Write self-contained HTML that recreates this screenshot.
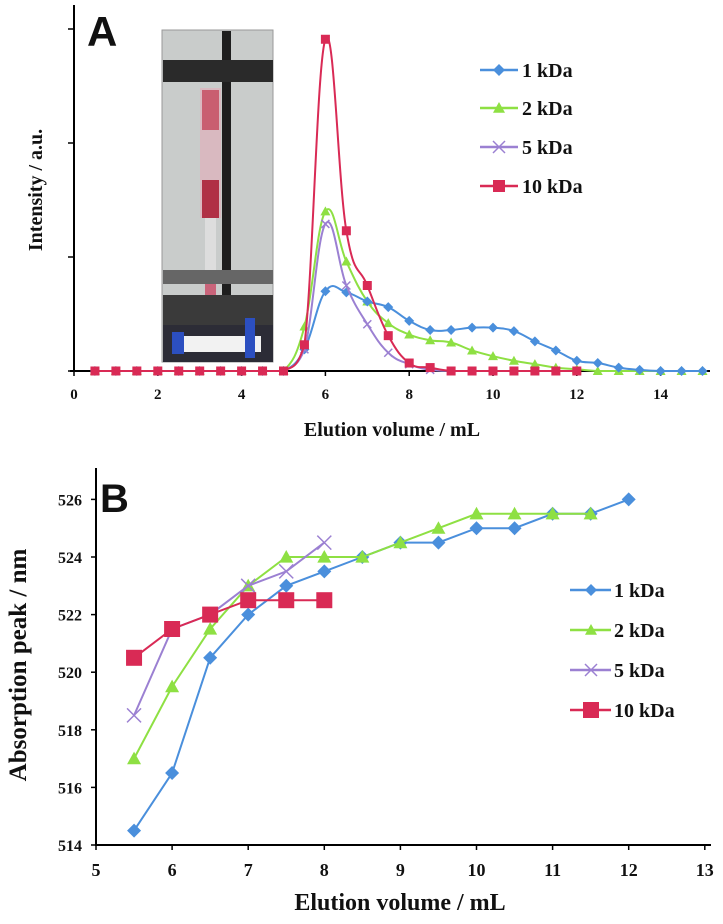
<!DOCTYPE html>
<html><head><meta charset="utf-8">
<style>
html,body{margin:0;padding:0;background:#fff;}
svg text{font-family:"Liberation Serif",serif;font-weight:bold;fill:#111;}
</style></head>
<body>
<svg id="fig" width="723" height="919" viewBox="0 0 723 919" xmlns="http://www.w3.org/2000/svg">
<g id="pa"></g>
<g id="pb"></g>
</svg>
<script>
// ---------- Panel A data ----------
const aX = [0.5,1,1.5,2,2.5,3,3.5,4,4.5,5,5.5,6,6.5,7,7.5,8,8.5,9,9.5,10,10.5,11,11.5,12,12.5,13,13.5,14,14.5,15];
const a1 = [0,0,0,0,0,0,0,0,0,0,0.19,0.70,0.69,0.61,0.56,0.44,0.36,0.36,0.38,0.38,0.35,0.26,0.18,0.09,0.07,0.03,0.01,0,0,0];
const a2 = [0,0,0,0,0,0,0,0,0,0,0.39,1.40,0.96,0.61,0.42,0.32,0.27,0.25,0.18,0.13,0.09,0.06,0.03,0.015,0,0,0,0,0,0];
const a5X = [5,5.5,6,6.5,7,7.5,8,8.5,9];
const a5 = [0,0.19,1.29,0.75,0.41,0.16,0.06,0.01,0];
const a10X = [0.5,1,1.5,2,2.5,3,3.5,4,4.5,5,5.5,6,6.5,7,7.5,8,8.5,9,9.5,10,10.5,11,11.5,12];
const a10 = [0,0,0,0,0,0,0,0,0,0,0.23,2.91,1.23,0.75,0.31,0.07,0.03,0,0,0,0,0,0,0];
const aXTicks = [0,2,4,6,8,10,12,14];
const aYTicks = [0,1,2,3];
// ---------- Panel B data ----------
const b1X = [5.5,6,6.5,7,7.5,8,8.5,9,9.5,10,10.5,11,11.5,12];
const b1 = [514.5,516.5,520.5,522,523,523.5,524,524.5,524.5,525,525,525.5,525.5,526];
const b2X = [5.5,6,6.5,7,7.5,8,8.5,9,9.5,10,10.5,11,11.5];
const b2 = [517,519.5,521.5,523,524,524,524,524.5,525,525.5,525.5,525.5,525.5];
const b5X = [5.5,6,6.5,7,7.5,8];
const b5 = [518.5,521.5,522,523,523.5,524.5];
const b10X = [5.5,6,6.5,7,7.5,8];
const b10 = [520.5,521.5,522,522.5,522.5,522.5];
const bXTicks = [5,6,7,8,9,10,11,12,13];
const bYTicks = [514,516,518,520,522,524,526];

const C = {b:'#4a8fdc', g:'#8ee043', p:'#9b80d2', r:'#d92a55'};
const NS='http://www.w3.org/2000/svg';
function mk(parent,tag,attrs,txt){const e=document.createElementNS(NS,tag);for(const k in attrs)e.setAttribute(k,attrs[k]);if(txt!==undefined)e.textContent=txt;parent.appendChild(e);return e;}

const axA = v=>74+41.9*v, ayA = v=>371-114*v;
const axB = v=>96+76.1*(v-5), ayB = v=>845-28.8*(v-514);

function smoothPath(pts){
  let d='M'+pts[0][0]+','+pts[0][1];
  for(let i=0;i<pts.length-1;i++){
    const p0=pts[Math.max(0,i-1)],p1=pts[i],p2=pts[i+1],p3=pts[Math.min(pts.length-1,i+2)];
    const t=0.2;
    const c1x=p1[0]+(p2[0]-p0[0])*t,c1y=p1[1]+(p2[1]-p0[1])*t;
    const c2x=p2[0]-(p3[0]-p1[0])*t,c2y=p2[1]-(p3[1]-p1[1])*t;
    d+=' C'+c1x+','+Math.min(c1y,371)+' '+c2x+','+Math.min(c2y,371)+' '+p2[0]+','+p2[1];
  }
  return d;
}
function marker(g,type,x,y,col,s){
  let e;
  if(type==='d') e=mk(g,'polygon',{points:`${x},${y-s} ${x+s},${y} ${x},${y+s} ${x-s},${y}`,fill:col});
  else if(type==='t') e=mk(g,'polygon',{points:`${x},${y-s} ${x+s},${y+s*0.8} ${x-s},${y+s*0.8}`,fill:col});
  else if(type==='s') e=mk(g,'rect',{x:x-s,y:y-s,width:2*s,height:2*s,fill:col});
  else { e=mk(g,'path',{d:`M${x-s},${y-s}L${x+s},${y+s}M${x-s},${y+s}L${x+s},${y-s}`,stroke:col,'stroke-width':1.5,fill:'none'}); }
  
  
}

// ---------- Panel A ----------
const pa=document.getElementById('pa');
const ph=mk(pa,'g',{});


mk(ph,'rect',{x:162,y:30,width:111,height:332,fill:'#c9cccb'});
mk(ph,'rect',{x:162,y:30,width:111,height:332,fill:'none',stroke:'#999'});
mk(ph,'rect',{x:222,y:31,width:9,height:310,fill:'#1e1e1e'});
mk(ph,'rect',{x:163,y:60,width:110,height:22,fill:'#2a2a2a'});
mk(ph,'rect',{x:200,y:88,width:21,height:130,fill:'#d9b9c0'});
mk(ph,'rect',{x:202,y:90,width:17,height:40,fill:'#c2384f',opacity:0.7});
mk(ph,'rect',{x:202,y:180,width:17,height:38,fill:'#a8182f',opacity:0.85});
mk(ph,'rect',{x:205,y:218,width:11,height:110,fill:'#ddd'});
mk(ph,'rect',{x:205,y:275,width:11,height:30,fill:'#c03050',opacity:0.7});
mk(ph,'rect',{x:163,y:270,width:110,height:14,fill:'#666'});
mk(ph,'rect',{x:163,y:295,width:110,height:30,fill:'#3a3a3a'});
mk(ph,'rect',{x:163,y:325,width:110,height:37,fill:'#2c2c36'});
mk(ph,'rect',{x:176,y:336,width:85,height:16,fill:'#f2f2f2'});
mk(ph,'rect',{x:172,y:332,width:12,height:22,fill:'#2c4fc0'});
mk(ph,'rect',{x:245,y:318,width:10,height:40,fill:'#2c4fc0'});

mk(pa,'line',{x1:74,y1:5,x2:74,y2:372,stroke:'#000','stroke-width':2});
mk(pa,'line',{x1:70,y1:371,x2:710,y2:371,stroke:'#000','stroke-width':2});
aYTicks.forEach(v=>{const t=mk(pa,'line',{x1:68,y1:ayA(v),x2:74,y2:ayA(v),stroke:'#000','stroke-width':1.5});
});
aXTicks.forEach(v=>{mk(pa,'line',{x1:axA(v),y1:371,x2:axA(v),y2:376,stroke:'#000','stroke-width':1.5});
const t=mk(pa,'text',{x:axA(v),y:399,'text-anchor':'middle','font-size':15},String(v));
});
const ta=mk(pa,'text',{x:87,y:46,'font-size':42,style:'font-family:"Liberation Sans",sans-serif;font-weight:bold'},'A');

const ya=mk(pa,'text',{x:0,y:0,'text-anchor':'middle','font-size':20,transform:'translate(42,190) rotate(-90)'},'Intensity / a.u.');

const xa=mk(pa,'text',{x:392,y:436,'text-anchor':'middle','font-size':20},'Elution volume / mL');


function seriesA(xs,ys,col,type,name,s){
  const g=mk(pa,'g',{});
  
  
  const pts=xs.map((x,i)=>[axA(x),ayA(ys[i])]);
  mk(g,'path',{d:smoothPath(pts),fill:'none',stroke:col,'stroke-width':2});
  pts.forEach(p=>marker(g,type,p[0],p[1],col,s));
}
seriesA(aX,a2,C.g,'t','series-2kda',5);
seriesA(aX,a1,C.b,'d','series-1kda',5);
seriesA(a5X,a5,C.p,'x','series-5kda',4);
seriesA(a10X,a10,C.r,'s','series-10kda',4.5);

const legA=[['1 kDa',C.b,'d',70],['2 kDa',C.g,'t',108],['5 kDa',C.p,'x',147],['10 kDa',C.r,'s',186]];
legA.forEach(l=>{const g=mk(pa,'g',{});

mk(g,'line',{x1:480,y1:l[3],x2:518,y2:l[3],stroke:l[1],'stroke-width':2.5});
marker(g,l[2],499,l[3],l[1],6);
mk(g,'text',{x:522,y:l[3]+7,'font-size':20},l[0]);});

// ---------- Panel B ----------
const pb=document.getElementById('pb');
mk(pb,'line',{x1:96,y1:468,x2:96,y2:846,stroke:'#000','stroke-width':2});
mk(pb,'line',{x1:95,y1:845,x2:711,y2:845,stroke:'#000','stroke-width':2});
bYTicks.forEach(v=>{mk(pb,'line',{x1:91,y1:ayB(v),x2:96,y2:ayB(v),stroke:'#000','stroke-width':1.5});
const t=mk(pb,'text',{x:82,y:ayB(v)+6,'text-anchor':'end','font-size':16},String(v));
});
bXTicks.forEach(v=>{mk(pb,'line',{x1:axB(v),y1:845,x2:axB(v),y2:850,stroke:'#000','stroke-width':1.5});
const t=mk(pb,'text',{x:axB(v),y:876,'text-anchor':'middle','font-size':18},String(v));
});
const tb=mk(pb,'text',{x:100,y:512,'font-size':40,style:'font-family:"Liberation Sans",sans-serif;font-weight:bold'},'B');

const yb=mk(pb,'text',{x:0,y:0,'text-anchor':'middle','font-size':25,transform:'translate(26,665) rotate(-90)'},'Absorption peak / nm');

const xb=mk(pb,'text',{x:400,y:910,'text-anchor':'middle','font-size':24},'Elution volume / mL');


function seriesB(xs,ys,col,type,name,s){
  const g=mk(pb,'g',{});
  
  
  const pts=xs.map((x,i)=>[axB(x),ayB(ys[i])]);
  mk(g,'polyline',{points:pts.map(p=>p.join(',')).join(' '),fill:'none',stroke:col,'stroke-width':2});
  pts.forEach(p=>marker(g,type,p[0],p[1],col,s));
}
seriesB(b1X,b1,C.b,'d','series-1kda',7);
seriesB(b2X,b2,C.g,'t','series-2kda',7);
seriesB(b5X,b5,C.p,'x','series-5kda',7);
seriesB(b10X,b10,C.r,'s','series-10kda',8);

const legB=[['1 kDa',C.b,'d',590],['2 kDa',C.g,'t',630],['5 kDa',C.p,'x',670],['10 kDa',C.r,'s',710]];
legB.forEach(l=>{const g=mk(pb,'g',{});

mk(g,'line',{x1:570,y1:l[3],x2:611,y2:l[3],stroke:l[1],'stroke-width':2.5});
marker(g,l[2],591,l[3],l[1],l[2]==='s'?8:6);
mk(g,'text',{x:614,y:l[3]+7,'font-size':20},l[0]);});
</script>
</body></html>
